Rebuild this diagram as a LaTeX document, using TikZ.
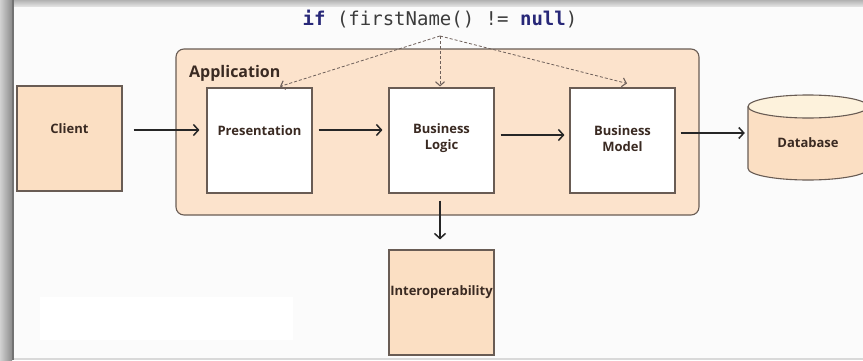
\documentclass[tikz,border=0pt]{standalone}
\usepackage{fontspec}
\setmainfont{Open Sans}
\newfontfamily\codefont{DejaVu Sans Mono}
\usetikzlibrary{arrows.meta,calc}

\definecolor{bgcol}{RGB}{251,251,251}
\definecolor{peach}{RGB}{251,223,195}
\definecolor{appfill}{RGB}{252,227,204}
\definecolor{dbtop}{RGB}{253,242,220}
\definecolor{edge}{RGB}{105,92,84}
\definecolor{ink}{RGB}{58,42,34}
\definecolor{kw}{RGB}{40,40,120}
\definecolor{codeink}{RGB}{60,60,60}
\definecolor{dashcol}{RGB}{110,96,90}

\tikzset{
  box/.style={draw=edge, line width=1.1pt, minimum width=105pt, minimum height=105pt, inner sep=0pt},
  peachbox/.style={box, fill=peach},
  whitebox/.style={box, fill=white},
  lbl/.style={font=\bfseries\fontsize{13}{16}\selectfont, text=ink, align=center, inner sep=0pt},
  flow/.style={draw=black!85, line width=1.5pt, -{Straight Barb[length=5pt,width=11pt]}},
  hint/.style={draw=dashcol, line width=0.8pt, dash pattern=on 3pt off 2pt,
               -{Straight Barb[length=4pt,width=9pt,line width=1.1pt]}},
}

\begin{document}
\begin{tikzpicture}[x=1pt,y=1pt]
\useasboundingbox (0,0) rectangle (863,360);
\fill[bgcol] (0,0) rectangle (863,360);

% window frame
\shade[left color=black!18, right color=black!45] (0,0) rectangle (12,360);
\fill[black!55] (12,0) rectangle (14,360);
\shade[top color=black!30, bottom color=black!12] (14,354) rectangle (863,360);
\fill[black!15] (14,0) rectangle (863,2.5);
\fill[white] (40,20) rectangle (293,63);

% application container
\node[draw=edge, line width=1.1pt, fill=appfill, rounded corners=8pt,
      minimum width=523pt, minimum height=166pt] (app) at (437.5,228) {};
\node[font=\bfseries\fontsize{16}{18}\selectfont, text=ink, anchor=base west, inner sep=0pt]
      (applbl) at (189,283) {Application};

% components
\node[peachbox, label={[lbl, yshift=10pt]center:Client}] (client) at (69.5,221.5) {};
\node[whitebox, label={[lbl, yshift=10pt]center:Presentation}] (pres) at (259.5,219.5) {};
\node[whitebox, label={[lbl, yshift=2pt]center:Business\\Logic}] (bl) at (441.5,219.5) {};
\node[whitebox, label={[lbl, yshift=2pt]center:Business\\Model}] (bm) at (622.5,219.5) {};
\node[peachbox, label={[lbl, yshift=10pt]center:Interoperability}] (inter) at (441.5,57.5) {};

% database cylinder: body, then lid, then the labelled node on top
\fill[peach] (748,253.5) -- (748,191.5)
  arc[start angle=180, end angle=360, x radius=60, y radius=11.5] -- (868,253.5) -- cycle;
\draw[edge, line width=1.1pt] (748,253.5) -- (748,191.5)
  arc[start angle=180, end angle=360, x radius=60, y radius=11.5] -- (868,253.5);
\filldraw[fill=dbtop, draw=edge, line width=1.1pt] (808,253.5) ellipse[x radius=60, y radius=11.5];
\node[minimum width=120pt, minimum height=85pt, inner sep=0pt,
      label={[lbl, yshift=-5.5pt]center:Database}] (db) at (808,222.5) {};

% condition
\node[inner sep=0pt, text=codeink] (code) at (440,341)
  {\codefont\fontsize{19}{22}\selectfont\textcolor{kw}{\bfseries if} (firstName() != \textcolor{kw}{\bfseries null})};
\coordinate (src) at (440,324);

% request flow
\draw[flow, shorten <=11pt, shorten >=7pt] ([yshift=8.5pt]client.east) -- ([yshift=10.5pt]pres.west);
\draw[flow, shorten <=6pt, shorten >=6pt] ([yshift=10.5pt]pres.east) -- ([yshift=10.5pt]bl.west);
\draw[flow, shorten <=6pt, shorten >=5pt] ([yshift=5.5pt]bl.east) -- ([yshift=5.5pt]bm.west);
\draw[flow, shorten <=5pt, shorten >=3pt] ([yshift=7.5pt]bm.east) -- ([yshift=7.5pt]bm.east -| db.west);
\draw[flow, shorten <=7pt, shorten >=10pt] ([xshift=-1.5pt]bl.south) -- ([xshift=-1.5pt]inter.north);

% the condition reaches every layer
\draw[hint] (src) -- ([xshift=20.5pt,yshift=1pt]pres.north);
\draw[hint] (src) -- ([yshift=1pt]src |- bl.north);
\draw[hint] (src) -- ([xshift=4.5pt,yshift=4pt]bm.north);
\end{tikzpicture}
\end{document}
